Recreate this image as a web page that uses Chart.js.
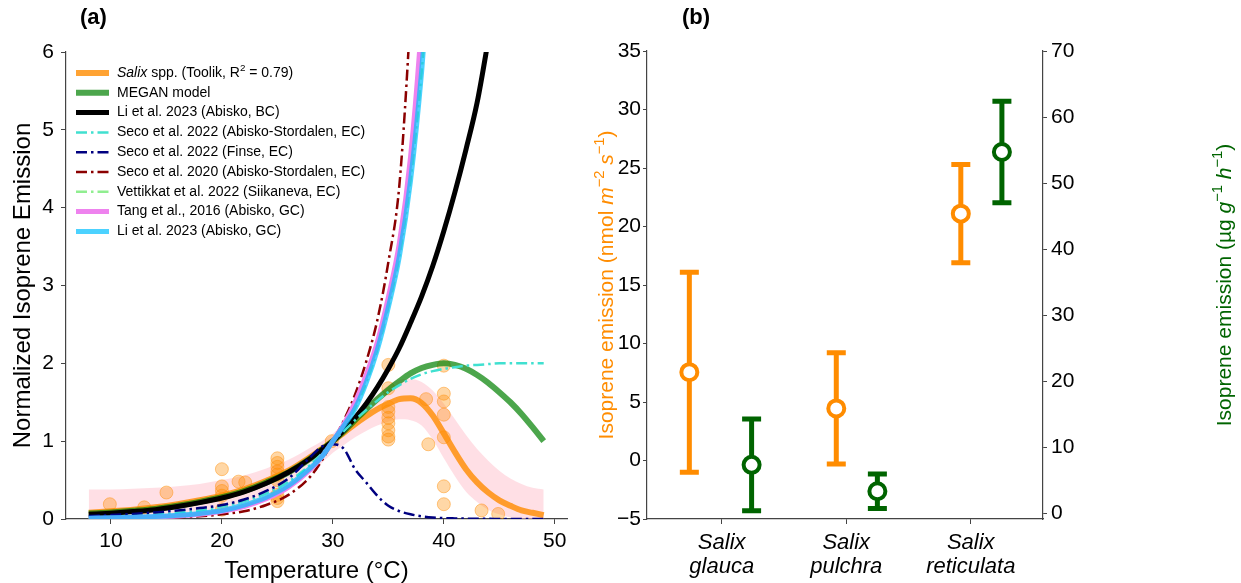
<!DOCTYPE html>
<html>
<head>
<meta charset="utf-8">
<script src="https://cdn.jsdelivr.net/npm/chart.js@4.4.1/dist/chart.umd.min.js"></script>
<style>
  html, body { margin: 0; padding: 0; background: #fff; }
  #wrap { position: relative; width: 1241px; height: 583px; overflow: hidden; }
  #chartA { position: absolute; left: 0; top: 0; }
  #chartB { position: absolute; left: 590px; top: 0; }
</style>
</head>
<body>
<div id="wrap">
  <canvas id="chartA" width="590" height="583"></canvas>
  <canvas id="chartB" width="651" height="583"></canvas>
</div>
<script>
const FONT = '"Liberation Sans", Arial, Helvetica, sans-serif';
Chart.defaults.font.family = FONT;
Chart.defaults.color = '#000';
Chart.defaults.animation = false;

// --- panel (a): normalized emission vs temperature ---
const tempGrid = [8, 10, 12, 14, 16, 18, 20, 22, 24, 26, 28, 29, 30, 31, 32, 33, 34, 35, 36, 37, 38, 39, 40, 41, 42, 43, 44, 45, 46, 47, 48, 49];
const salixFit = [0.08, 0.1, 0.12, 0.15, 0.19, 0.24, 0.3, 0.38, 0.49, 0.62, 0.8, 0.9, 1.0, 1.11, 1.22, 1.32, 1.41, 1.48, 1.54, 1.55, 1.49, 1.33, 1.1, 0.86, 0.64, 0.47, 0.34, 0.24, 0.17, 0.11, 0.08, 0.05];
const salixCiHigh = [0.38, 0.38, 0.39, 0.4, 0.42, 0.45, 0.5, 0.56, 0.65, 0.76, 0.92, 1.0, 1.1, 1.22, 1.35, 1.48, 1.6, 1.72, 1.79, 1.8, 1.76, 1.65, 1.48, 1.28, 1.08, 0.9, 0.75, 0.62, 0.52, 0.45, 0.4, 0.38];
const salixCiLow = [0, 0, 0.01, 0.02, 0.04, 0.07, 0.11, 0.17, 0.27, 0.4, 0.6, 0.72, 0.85, 0.95, 1.05, 1.13, 1.2, 1.25, 1.28, 1.27, 1.2, 1.02, 0.78, 0.55, 0.35, 0.22, 0.12, 0.06, 0.02, 0, 0, 0];
const meganModel = [0.07, 0.085, 0.105, 0.13, 0.17, 0.22, 0.28, 0.36, 0.47, 0.6, 0.78, 0.89, 1.0, 1.13, 1.27, 1.41, 1.54, 1.66, 1.77, 1.87, 1.94, 1.98, 2.0, 1.98, 1.93, 1.85, 1.75, 1.63, 1.5, 1.35, 1.18, 1.0];
const liAbiskoBC = [0.06, 0.075, 0.095, 0.12, 0.16, 0.21, 0.27, 0.35, 0.46, 0.6, 0.78, 0.89, 1.0, 1.14, 1.3, 1.48, 1.69, 1.93, 2.2, 2.52, 2.86, 3.25, 3.7, 4.2, 4.75, 5.35, 6.15, 7.0, null, null, null, null];
const seco2022Abisko = [0.02, 0.03, 0.04, 0.055, 0.08, 0.11, 0.16, 0.23, 0.33, 0.48, 0.7, 0.84, 1.0, 1.13, 1.27, 1.4, 1.52, 1.63, 1.72, 1.8, 1.86, 1.9, 1.93, 1.95, 1.97, 1.98, 1.99, 2.0, 2.0, 2.0, 2.0, 2.0];
const seco2022Finse = [0.04, 0.05, 0.065, 0.085, 0.11, 0.14, 0.18, 0.25, 0.36, 0.52, 0.8, 0.93, 0.96, 0.9, 0.64, 0.47, 0.3, 0.17, 0.1, 0.06, 0.035, 0.02, 0.012, 0.008, 0.005, 0.003, 0.002, 0.001, 0, 0, 0, 0];
const seco2020Abisko = [0.003, 0.005, 0.008, 0.013, 0.02, 0.035, 0.06, 0.1, 0.18, 0.31, 0.55, 0.75, 1.0, 1.27, 1.6, 2.02, 2.55, 3.3, 4.3, 6.5, 9.5, null, null, null, null, null, null, null, null, null, null, null];
// hidden under the GC curves in the figure
const vettikkat2022 = [0.01, 0.015, 0.022, 0.032, 0.048, 0.072, 0.11, 0.18, 0.28, 0.43, 0.66, 0.8, 1.0, 1.2, 1.42, 1.75, 2.17, 2.72, 3.38, 4.35, 5.75, 7.6, null, null, null, null, null, null, null, null, null, null];
const tang2016 = [0.008, 0.012, 0.018, 0.027, 0.04, 0.06, 0.1, 0.16, 0.26, 0.41, 0.64, 0.8, 1.0, 1.22, 1.5, 1.85, 2.27, 2.85, 3.55, 4.65, 6.4, 9.0, null, null, null, null, null, null, null, null, null, null];
const liAbiskoGC = [0.01, 0.015, 0.022, 0.032, 0.048, 0.072, 0.11, 0.18, 0.28, 0.43, 0.66, 0.8, 1.0, 1.2, 1.42, 1.75, 2.17, 2.72, 3.38, 4.35, 5.75, 7.6, null, null, null, null, null, null, null, null, null, null];

const obsTemp = [9.9, 13, 15, 20, 20, 20, 20, 20, 21.5, 22.1, 25, 25, 25, 25, 25, 25, 25, 25, 25, 29.9, 35, 35, 35, 35, 35, 35, 35, 35, 35, 38.4, 38.6, 40, 40, 40, 40, 40, 40, 40, 43.4, 44.9];
const obsEmission = [0.19, 0.15, 0.34, 0.64, 0.42, 0.36, 0.3, 0.12, 0.48, 0.47, 0.78, 0.72, 0.67, 0.61, 0.57, 0.5, 0.31, 0.27, 0.23, 1.0, 1.98, 1.68, 1.44, 1.38, 1.3, 1.23, 1.14, 1.06, 1.02, 1.54, 0.96, 1.97, 1.61, 1.51, 1.34, 1.05, 0.42, 0.19, 0.11, 0.065];

const tempTicks = [10, 20, 30, 40, 50];
const normTicks = [0, 1, 2, 3, 4, 5, 6];

// --- panel (b): emission per species ---
const speciesLabels = [['Salix', 'glauca'], ['Salix', 'pulchra'], ['Salix', 'reticulata']];
const speciesTicks = [0, 1, 2];
const areaX = [-0.26, 0.92, 1.92];
const areaMean = [7.55, 4.45, 21.1];
const areaErr = [8.55, 4.75, 4.2];
const massX = [0.24, 1.25, 2.25];
const massMean = [7.3, 3.3, 54.7];
const massErr = [6.95, 2.6, 7.7];
const areaTicks = [-5, 0, 5, 10, 15, 20, 25, 30, 35];
const massTicks = [0, 10, 20, 30, 40, 50, 60, 70];

const DASH_DOT = [11, 4, 2.5, 4];
const AXIS_COLOR = '#444';
const minus = (v) => String(v).replace('-', '\u2212');

const toPoints = (vals) => tempGrid.map((t, i) => ({ x: t, y: vals[i] }));

const curve = (label, vals, color, width, dashed, order, legendParts) => ({
  label,
  data: toPoints(vals),
  borderColor: color,
  backgroundColor: color,
  borderWidth: width,
  borderDash: dashed ? DASH_DOT : [],
  pointRadius: 0,
  cubicInterpolationMode: 'monotone',
  fill: false,
  order,
  inLegend: true,
  legendParts
});

// text made of plain / italic / superscript pieces
const drawRich = (ctx, parts, x, y, size, color) => {
  ctx.fillStyle = color;
  ctx.textBaseline = 'middle';
  ctx.textAlign = 'left';
  let tx = x;
  parts.forEach(([text, style]) => {
    const sup = style === 'sup' || style === 'supitalic';
    const it = style === 'italic' || style === 'supitalic';
    const s = sup ? size * 0.7 : size;
    ctx.font = `${it ? 'italic ' : ''}${s}px ${FONT}`;
    ctx.fillText(text, tx, sup ? y - size * 0.35 : y);
    tx += ctx.measureText(text).width;
  });
  return tx - x;
};

const richWidth = (ctx, parts, size) => {
  let w = 0;
  parts.forEach(([text, style]) => {
    const sup = style === 'sup' || style === 'supitalic';
    const it = style === 'italic' || style === 'supitalic';
    ctx.font = `${it ? 'italic ' : ''}${sup ? size * 0.7 : size}px ${FONT}`;
    w += ctx.measureText(text).width;
  });
  return w;
};

// draws "(a)" / "(b)"
const panelLabel = {
  id: 'panelLabel',
  afterDraw(chart, args, opts) {
    const ctx = chart.ctx;
    ctx.save();
    ctx.font = `bold 22px ${FONT}`;
    ctx.fillStyle = '#000';
    ctx.textAlign = 'left';
    ctx.textBaseline = 'middle';
    ctx.fillText(opts.text, opts.x, opts.y);
    ctx.restore();
  }
};

// rotated axis titles with superscripts (both read bottom to top)
const sideTitles = {
  id: 'sideTitles',
  afterDraw(chart, args, opts) {
    const { ctx, chartArea } = chart;
    const cy = (chartArea.top + chartArea.bottom) / 2;
    opts.titles.forEach(t => {
      ctx.save();
      ctx.translate(t.x, cy);
      ctx.rotate(-Math.PI / 2);
      const w = richWidth(ctx, t.parts, t.size);
      drawRich(ctx, t.parts, -w / 2, 0, t.size, t.color);
      ctx.restore();
    });
  }
};

// legend inside the plot
const curveLegend = {
  id: 'curveLegend',
  afterDraw(chart, args, opts) {
    const { ctx, chartArea } = chart;
    const x0 = chartArea.left + opts.offsetX;
    let y = chartArea.top + opts.offsetY;
    ctx.save();
    chart.data.datasets.filter(ds => ds.inLegend).forEach(ds => {
      ctx.strokeStyle = ds.borderColor;
      ctx.lineWidth = ds.borderWidth;
      ctx.lineCap = 'butt';
      ctx.setLineDash(ds.borderDash || []);
      ctx.beginPath();
      ctx.moveTo(x0, y);
      ctx.lineTo(x0 + opts.handleWidth, y);
      ctx.stroke();
      ctx.setLineDash([]);
      drawRich(ctx, ds.legendParts || [[ds.label]], x0 + opts.handleWidth + opts.gap, y, opts.fontSize, '#000');
      y += opts.rowHeight;
    });
    ctx.restore();
  }
};

// vertical error bars with caps, drawn under the markers
const errorBars = {
  id: 'errorBars',
  beforeDatasetsDraw(chart, args, opts) {
    const ctx = chart.ctx;
    chart.data.datasets.forEach((ds, i) => {
      if (!ds.errors) return;
      const meta = chart.getDatasetMeta(i);
      const xs = chart.scales[meta.xAxisID];
      const ys = chart.scales[meta.yAxisID];
      ctx.save();
      ctx.strokeStyle = ds.borderColor;
      ctx.lineWidth = opts.width;
      ds.data.forEach((p, j) => {
        const px = xs.getPixelForValue(p.x);
        const top = ys.getPixelForValue(p.y + ds.errors[j]);
        const bot = ys.getPixelForValue(p.y - ds.errors[j]);
        ctx.beginPath();
        ctx.moveTo(px, top);
        ctx.lineTo(px, bot);
        ctx.moveTo(px - opts.cap, top);
        ctx.lineTo(px + opts.cap, top);
        ctx.moveTo(px - opts.cap, bot);
        ctx.lineTo(px + opts.cap, bot);
        ctx.stroke();
      });
      ctx.restore();
    });
  }
};

new Chart(document.getElementById('chartA'), {
  type: 'line',
  data: {
    datasets: [
      curve('Salix spp. (Toolik, R² = 0.79)', salixFit, 'rgba(255,140,0,0.8)', 6, false, 18,
        [['Salix', 'italic'], [' spp. (Toolik, R'], ['2', 'sup'], [' = 0.79)']]),
      curve('MEGAN model', meganModel, 'rgba(0,128,0,0.7)', 6, false, 17),
      curve('Li et al. 2023 (Abisko, BC)', liAbiskoBC, '#000000', 5, false, 16),
      curve('Seco et al. 2022 (Abisko-Stordalen, EC)', seco2022Abisko, '#40e0d0', 2.5, true, 15),
      curve('Seco et al. 2022 (Finse, EC)', seco2022Finse, '#000080', 2.5, true, 14),
      curve('Seco et al. 2020 (Abisko-Stordalen, EC)', seco2020Abisko, '#8b0000', 2.5, true, 13),
      curve('Vettikkat et al. 2022 (Siikaneva, EC)', vettikkat2022, '#90ee90', 2.5, true, 12),
      curve('Tang et al., 2016 (Abisko, GC)', tang2016, '#ee82ee', 5, false, 11),
      curve('Li et al. 2023 (Abisko, GC)', liAbiskoGC, 'rgba(0,191,255,0.7)', 5, false, 10),
      {
        label: 'observations',
        type: 'scatter',
        data: obsTemp.map((t, i) => ({ x: t, y: obsEmission[i] })),
        pointRadius: 6.5,
        pointBackgroundColor: 'rgba(255,140,0,0.35)',
        pointBorderColor: 'rgba(255,140,0,0.45)',
        pointBorderWidth: 1,
        order: 19
      },
      {
        label: 'ci high',
        data: toPoints(salixCiHigh),
        borderWidth: 0,
        pointRadius: 0,
        backgroundColor: 'rgba(255,192,203,0.5)',
        cubicInterpolationMode: 'monotone',
        fill: '+1',
        order: 20
      },
      {
        label: 'ci low',
        data: toPoints(salixCiLow),
        borderWidth: 0,
        pointRadius: 0,
        cubicInterpolationMode: 'monotone',
        fill: false,
        order: 21
      }
    ]
  },
  options: {
    responsive: false,
    layout: { padding: { left: 0, top: 52, right: 23, bottom: 0 } },
    plugins: {
      legend: { display: false },
      tooltip: { enabled: false },
      panelLabel: { text: '(a)', x: 80, y: 18 },
      curveLegend: { offsetX: 10, offsetY: 21, handleWidth: 33, gap: 8, rowHeight: 19.8, fontSize: 14 }
    },
    scales: {
      x: {
        type: 'linear',
        min: 5.95,
        max: 51.1,
        afterBuildTicks: (s) => { s.ticks = tempTicks.map(v => ({ value: v })); },
        afterFit: (s) => { s.height = 64; },
        grid: { drawOnChartArea: false, tickLength: 5, color: AXIS_COLOR },
        border: { color: AXIS_COLOR, width: 1.2 },
        ticks: { font: { size: 21 }, padding: 5, maxRotation: 0, color: '#000' },
        title: { display: true, text: 'Temperature (°C)', font: { size: 24, lineHeight: 1 }, padding: 0, color: '#000' }
      },
      y: {
        min: 0,
        max: 6,
        afterBuildTicks: (s) => { s.ticks = normTicks.map(v => ({ value: v })); },
        afterFit: (s) => { s.width = 66; },
        grid: { drawOnChartArea: false, tickLength: 5, color: AXIS_COLOR },
        border: { color: AXIS_COLOR, width: 1.2 },
        ticks: { font: { size: 21 }, padding: 7, color: '#000' },
        title: { display: true, text: 'Normalized Isoprene Emission', font: { size: 24, lineHeight: 1 }, padding: { top: 11, bottom: 0 }, color: '#000' }
      }
    }
  },
  plugins: [panelLabel, curveLegend]
});

new Chart(document.getElementById('chartB'), {
  type: 'scatter',
  data: {
    datasets: [
      {
        label: 'area-based emission',
        data: areaX.map((x, i) => ({ x, y: areaMean[i] })),
        errors: areaErr,
        yAxisID: 'y',
        pointRadius: 8,
        pointBorderWidth: 4,
        borderColor: '#ff8c00',
        pointBorderColor: '#ff8c00',
        pointBackgroundColor: '#ffffff'
      },
      {
        label: 'mass-based emission',
        data: massX.map((x, i) => ({ x, y: massMean[i] })),
        errors: massErr,
        yAxisID: 'y2',
        pointRadius: 8,
        pointBorderWidth: 4,
        borderColor: '#006400',
        pointBorderColor: '#006400',
        pointBackgroundColor: '#ffffff'
      }
    ]
  },
  options: {
    responsive: false,
    layout: { padding: { left: 0, top: 51, right: 0, bottom: 0 } },
    plugins: {
      legend: { display: false },
      tooltip: { enabled: false },
      panelLabel: { text: '(b)', x: 92, y: 18 },
      errorBars: { width: 5, cap: 9.5 },
      sideTitles: {
        titles: [
          { x: 17, size: 21, color: '#ff8c00',
            parts: [['Isoprene emission (nmol '], ['m', 'italic'], ['\u22122', 'sup'], [' '], ['s', 'italic'], ['\u22121', 'sup'], [')']] },
          { x: 635, size: 21, color: '#006400',
            parts: [['Isoprene emission (\u00b5g '], ['g', 'italic'], ['\u22121', 'sup'], [' '], ['h', 'italic'], ['\u22121', 'sup'], [')']] }
        ]
      }
    },
    scales: {
      x: {
        type: 'linear',
        min: -0.6,
        max: 2.58,
        afterBuildTicks: (s) => { s.ticks = speciesTicks.map(v => ({ value: v })); },
        afterFit: (s) => { s.height = 64; },
        grid: { drawOnChartArea: false, tickLength: 5, color: AXIS_COLOR },
        border: { color: AXIS_COLOR, width: 1.2 },
        ticks: {
          font: { size: 22, style: 'italic', lineHeight: 1.1 },
          padding: 7,
          maxRotation: 0,
          color: '#000',
          callback: (v) => speciesLabels[speciesTicks.indexOf(v)]
        }
      },
      y: {
        position: 'left',
        min: -5,
        max: 35,
        afterBuildTicks: (s) => { s.ticks = areaTicks.map(v => ({ value: v })); },
        afterFit: (s) => { s.width = 57; },
        grid: { drawOnChartArea: false, tickLength: 4, color: AXIS_COLOR },
        border: { color: AXIS_COLOR, width: 1.2 },
        ticks: { font: { size: 21 }, padding: 2, color: '#000', callback: (v) => minus(v) }
      },
      y2: {
        position: 'right',
        min: -0.9,
        max: 70,
        afterBuildTicks: (s) => { s.ticks = massTicks.map(v => ({ value: v })); },
        afterFit: (s) => { s.width = 198; },
        grid: { drawOnChartArea: false, tickLength: 4, color: AXIS_COLOR },
        border: { color: AXIS_COLOR, width: 1.2 },
        ticks: { font: { size: 21 }, padding: 4, color: '#000' }
      }
    }
  },
  plugins: [panelLabel, errorBars, sideTitles]
});
</script>
</body>
</html>
